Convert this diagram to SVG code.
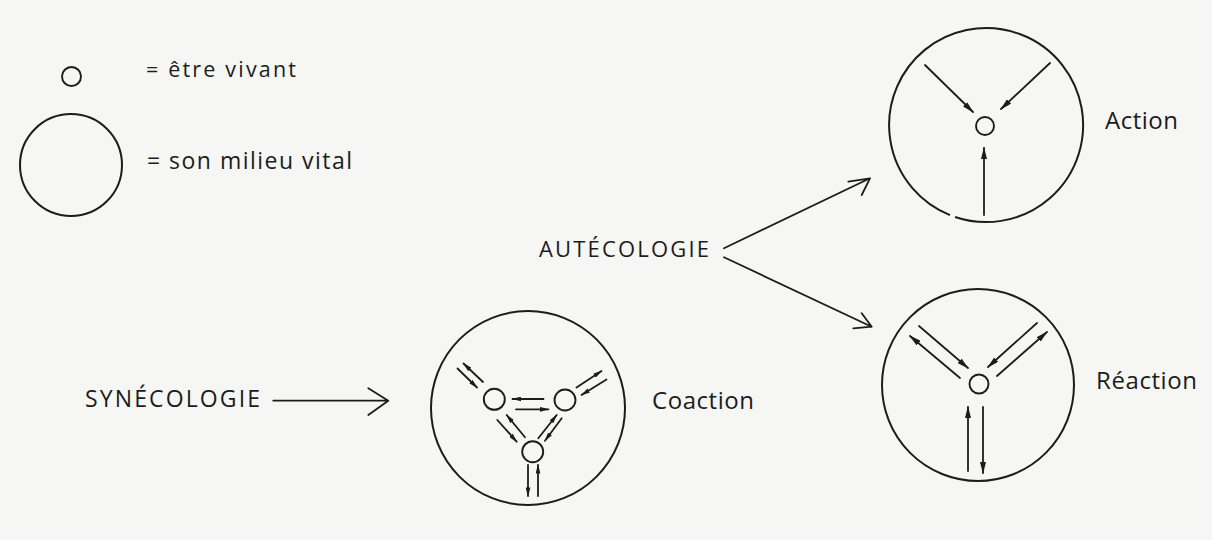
<svg xmlns="http://www.w3.org/2000/svg" width="1212" height="540" viewBox="0 0 1212 540">
<defs>
<style>
.ln{fill:none;stroke:#1c1c1c;stroke-width:1.8;stroke-linecap:round;stroke-linejoin:round}
.cir{fill:none;stroke:#1c1c1c;stroke-width:2}
.org{fill:none;stroke:#1c1c1c;stroke-width:1.9}
.tx{font-family:"Open Sans","Noto Sans","Liberation Sans",sans-serif;fill:#1c1c1c}
.big{marker-end:url(#tri)}
.sm{marker-end:url(#tris)}
</style>
<marker id="tri" viewBox="0 0 12 6" refX="11" refY="3" markerWidth="12" markerHeight="6" markerUnits="userSpaceOnUse" orient="auto">
<path d="M0,0 L12,3 L0,6 z" fill="#1c1c1c"/>
</marker>
<marker id="tris" viewBox="0 0 10 5" refX="9" refY="2.5" markerWidth="9.5" markerHeight="5" markerUnits="userSpaceOnUse" orient="auto">
<path d="M0,0 L10,2.5 L0,5 z" fill="#1c1c1c"/>
</marker>
</defs>
<rect width="1212" height="540" fill="#f6f6f4"/>

<g id="legend">
<circle class="org" cx="71.5" cy="76.5" r="9.5"/>
<text class="tx" x="146" y="77" font-size="21.5" textLength="150" lengthAdjust="spacing">= être vivant</text>
<circle class="cir" cx="71" cy="165" r="51"/>
<text class="tx" x="147" y="169" font-size="23" textLength="205" lengthAdjust="spacing">= son milieu vital</text>
</g>

<g id="node-autecologie">
<text class="tx" x="539" y="257" font-size="22" textLength="170" lengthAdjust="spacing">AUTÉCOLOGIE</text>
</g>

<g id="node-synecologie">
<text class="tx" x="85" y="407" font-size="23" textLength="175" lengthAdjust="spacing">SYNÉCOLOGIE</text>
</g>

<g id="node-action">
<path class="cir" d="M949.97,215.06 A97,97 0 1,1 955.06,216.94"/>
<circle class="org" cx="985" cy="126" r="9"/>
<line class="ln big" x1="925" y1="65" x2="973" y2="112"/>
<line class="ln big" x1="1050" y1="63" x2="1001" y2="109"/>
<line class="ln big" x1="984" y1="215" x2="984" y2="148"/>
<text class="tx" x="1105" y="128.5" font-size="24" textLength="73" lengthAdjust="spacing">Action</text>
</g>

<g id="node-reaction">
<circle class="cir" cx="978" cy="385" r="96"/>
<circle class="org" cx="979" cy="384" r="9.5"/>
<line class="ln big" x1="919" y1="326" x2="968" y2="368"/>
<line class="ln big" x1="960" y1="378" x2="910" y2="336"/>
<line class="ln big" x1="1037" y1="323" x2="988" y2="367"/>
<line class="ln big" x1="997" y1="376" x2="1047" y2="332"/>
<line class="ln big" x1="968" y1="471" x2="968" y2="407"/>
<line class="ln big" x1="983" y1="407" x2="983" y2="473"/>
<text class="tx" x="1096" y="389" font-size="24" textLength="101" lengthAdjust="spacing">Réaction</text>
</g>

<g id="node-coaction">
<circle class="cir" cx="528" cy="408" r="97"/>
<circle class="org" cx="494.3" cy="399.3" r="10.5"/>
<circle class="org" cx="565" cy="400" r="10.5"/>
<circle class="org" cx="532.7" cy="451.7" r="10.5"/>
<line class="ln sm" x1="457.5" y1="368.5" x2="477" y2="387.5"/>
<line class="ln sm" x1="483" y1="382" x2="463.5" y2="363.5"/>
<line class="ln sm" x1="606.5" y1="379.5" x2="581.5" y2="395"/>
<line class="ln sm" x1="576.5" y1="387.5" x2="601.5" y2="371"/>
<line class="ln sm" x1="543.5" y1="399" x2="512.5" y2="399"/>
<line class="ln sm" x1="516" y1="409.3" x2="548.5" y2="409.3"/>
<line class="ln sm" x1="497.3" y1="420" x2="516.7" y2="441.7"/>
<line class="ln sm" x1="525" y1="437.3" x2="506.7" y2="415"/>
<line class="ln sm" x1="538.3" y1="438.3" x2="556.7" y2="415"/>
<line class="ln sm" x1="561.7" y1="418.3" x2="545" y2="440.7"/>
<line class="ln sm" x1="528" y1="465" x2="528" y2="496"/>
<line class="ln sm" x1="538" y1="496" x2="538" y2="465"/>
<text class="tx" x="652" y="409" font-size="24" textLength="102" lengthAdjust="spacing">Coaction</text>
</g>

<g id="connectors">
<path class="ln" d="M724,248.3 L870,178.3 M848.3,181.7 L870,178.3 L861.7,195"/>
<path class="ln" d="M724,257.3 L871.7,326.7 M853.3,328.3 L871.7,326.7 L861.7,313.3"/>
<path class="ln" d="M273.3,400.7 L388.3,400.7 M368.3,388.3 L388.3,400.7 L368.3,415"/>
</g>
</svg>
